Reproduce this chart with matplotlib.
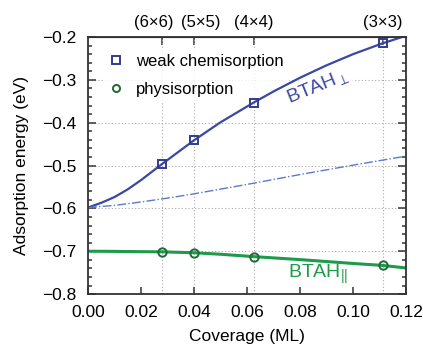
import matplotlib
matplotlib.use('Agg')
import matplotlib.pyplot as plt
import matplotlib.transforms as mtransforms
from matplotlib.ticker import MultipleLocator

plt.rcParams['font.family'] = ['Liberation Sans', 'DejaVu Sans']
plt.rcParams['mathtext.fontset'] = 'custom'
plt.rcParams['mathtext.rm'] = 'Liberation Sans'
plt.rcParams['mathtext.it'] = 'Liberation Sans:italic'

# computed points (coverage in ML)
coverage = [1 / 36, 1 / 25, 1 / 16, 1 / 9]
cell_labels = ['(6×6)', '(5×5)', '(4×4)', '(3×3)']
chemi_energy = [-0.497, -0.441, -0.353, -0.215]
physi_energy = [-0.701, -0.703, -0.713, -0.733]

# fitted curves
fit_x = [0.0, 0.005, 0.01, 0.015, 0.02, 0.0278, 0.04, 0.05, 0.0625,
         0.07, 0.08, 0.09, 0.10, 0.111, 0.12]
chemi_fit = [-0.598, -0.587, -0.5735, -0.5555, -0.534, -0.497, -0.441, -0.399,
             -0.353, -0.327, -0.295, -0.266, -0.240, -0.215, -0.197]
physi_fit = [-0.700, -0.7001, -0.7003, -0.7006, -0.701, -0.7013, -0.7035, -0.707,
             -0.7125, -0.7155, -0.7195, -0.724, -0.7285, -0.733, -0.739]
dashdot_x = [0.0, 0.01, 0.02, 0.03, 0.04, 0.06, 0.08, 0.10, 0.12]
dashdot_y = [-0.598, -0.593, -0.585, -0.576, -0.566, -0.544, -0.521, -0.499, -0.478]

blue = '#3a48a4'
green = '#1d9a4a'
dark_green = '#1d6b36'

fig = plt.figure(figsize=(4.23, 3.46), dpi=100)
ax = fig.add_axes([0.208, 0.150, 0.752, 0.743])

ax.set_xlim(0, 0.12)
ax.set_ylim(-0.8, -0.2)

# grid: vertical lines at the computed coverages, horizontal at the major y ticks
grid_kw = dict(color='#aaaaaa', linestyle=(0, (1, 2)), linewidth=0.8, zorder=0.5)
for c in coverage:
    ax.axvline(c, **grid_kw)
for yt in [-0.7, -0.6, -0.5, -0.4, -0.3]:
    ax.axhline(yt, **grid_kw)

ax.plot(fit_x, chemi_fit, color=blue, linewidth=1.6, zorder=2)
ax.plot(dashdot_x, dashdot_y, color='#5a7cc4', linewidth=1.0, linestyle='-.', zorder=2)
ax.plot(fit_x, physi_fit, color=green, linewidth=2.2, zorder=2)

ax.plot(coverage, chemi_energy, linestyle='none', marker='s', markersize=6,
        markerfacecolor='none', markeredgecolor='#323c8c', markeredgewidth=1.4,
        label='weak chemisorption', zorder=3)
ax.plot(coverage, physi_energy, linestyle='none', marker='o', markersize=6,
        markerfacecolor='none', markeredgecolor=dark_green, markeredgewidth=1.4,
        label='physisorption', zorder=3)

leg = ax.legend(loc='upper left', bbox_to_anchor=(0.02, 0.985), frameon=True,
                fontsize=12, handlelength=1.0, handletextpad=0.7,
                labelspacing=0.75, borderpad=0.3, fancybox=False, markerscale=0.85)
leg.get_frame().set_facecolor('white')
leg.get_frame().set_edgecolor('none')
leg.set_zorder(1)

ax.text(0.0866, -0.315, r'BTAH$_{\perp}$', color=blue, fontsize=14, rotation=22,
        ha='center', va='center', zorder=1.2,
        bbox=dict(facecolor='white', edgecolor='none', pad=1.5))
ax.text(0.0868, -0.755, r'BTAH$_{||}$', color=green, fontsize=14,
        ha='center', va='center', zorder=1.2)

ax.xaxis.set_major_locator(MultipleLocator(0.02))
ax.yaxis.set_major_locator(MultipleLocator(0.1))
ax.yaxis.set_minor_locator(MultipleLocator(0.02))
ax.xaxis.set_major_formatter(plt.FuncFormatter(lambda v, p: f'{v:.2f}'))
ax.yaxis.set_major_formatter(plt.FuncFormatter(lambda v, p: f'{v:.1f}'.replace('-', '\u2212')))
ax.tick_params(axis='both', which='both', direction='in', colors='#333333',
               labelcolor='black', labelsize=12.5, width=1.1)
ax.tick_params(axis='x', which='major', length=5, top=False, pad=8)
ax.tick_params(axis='y', which='major', length=6, right=True, pad=8)
ax.tick_params(axis='y', which='minor', length=3, right=True)
for sp in ax.spines.values():
    sp.set_linewidth(1.3)
    sp.set_color('#333333')

top = ax.secondary_xaxis('top')
top.set_xticks(coverage)
top.set_xticklabels(cell_labels)
top.tick_params(direction='in', length=6, width=1.1, colors='#333333',
                labelcolor='black', labelsize=12, pad=5)
# spread the two crowded labels apart
shifts = [-8, 7, 0, 0]
for lab, dx in zip(top.get_xticklabels(), shifts):
    lab.set_transform(lab.get_transform() +
                      mtransforms.ScaledTranslation(dx / 100, 0, fig.dpi_scale_trans))

ax.set_xlabel('Coverage (ML)', fontsize=12.5, labelpad=6)
ax.set_ylabel('Adsorption energy (eV)', fontsize=12.5, labelpad=10)

fig.savefig('out.png', dpi=100)
